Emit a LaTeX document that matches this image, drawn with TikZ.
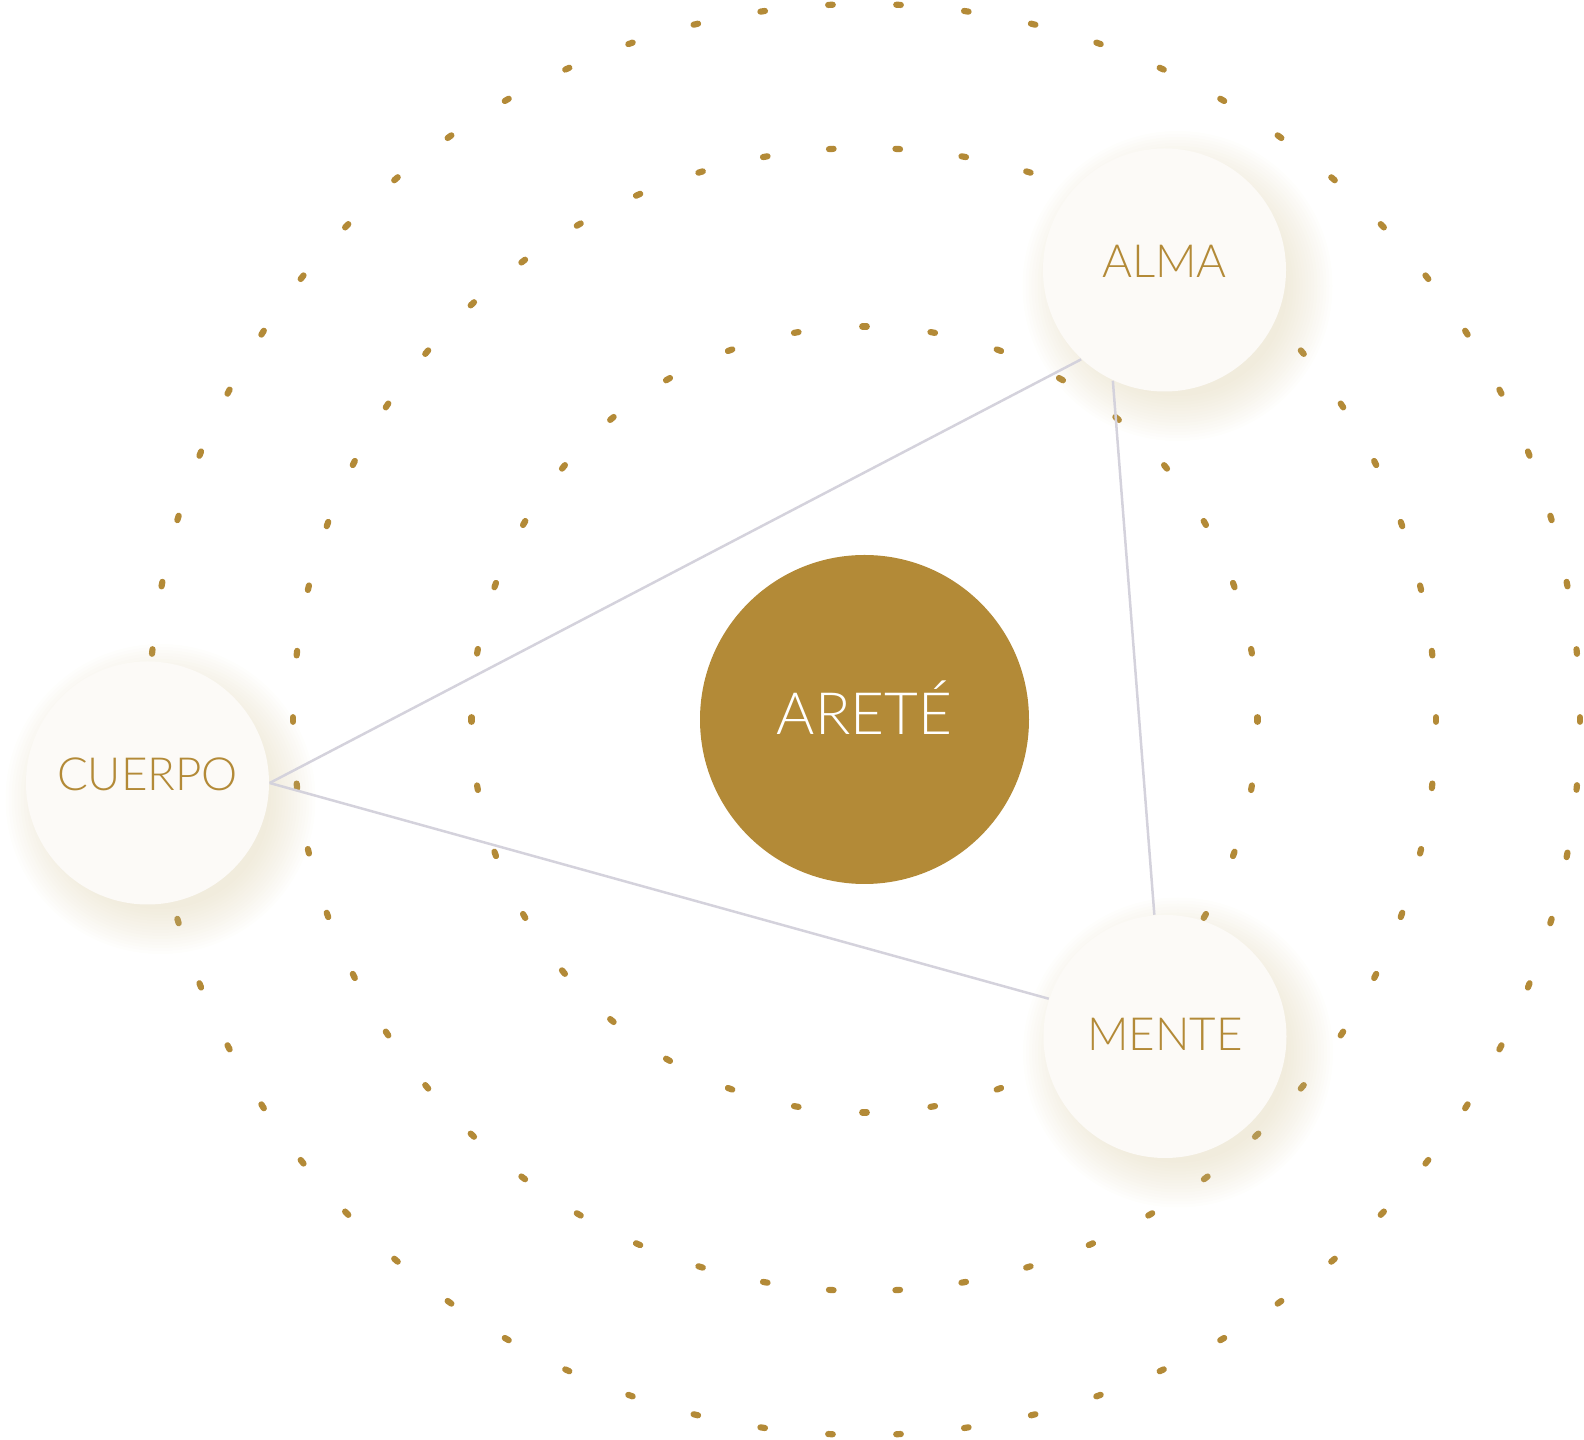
\documentclass[tikz,border=0pt]{standalone}
\usepackage{fontspec}
\setmainfont{Lato Light}
\usepackage{tikz}
\usetikzlibrary{positioning}

\definecolor{gold}{HTML}{B38A37}
\definecolor{cream}{HTML}{FCFAF7}
\definecolor{linegray}{HTML}{D4D2DC}
\definecolor{haze}{HTML}{D8C9A0}

\begin{document}
\begin{tikzpicture}
\tikzstyle{every node}=[inner sep=0pt];
\tikzstyle{ringdot}=[gold, line width=0.062cm, line cap=round];
\tikzstyle{pillar}=[circle, fill=cream, minimum size=2.43cm];
\tikzstyle{word}=[gold, anchor=base, font=\fontsize{13}{15}\selectfont];
\tikzstyle{link}=[linegray, line width=0.025cm];

  \useasboundingbox (0,0) rectangle (15.84,14.40);
  \coordinate (c) at (8.645,7.205);

  % dotted rings
  \foreach \r/\n/\s in {7.155/66/0.5, 5.715/54/0.5, 3.93/36/0}
    \foreach \k in {1,...,\n} {
      \pgfmathsetmacro\ang{90+(\k-1+\s)*(360/\n)-1.3/\r}
      \draw[ringdot, shift={(c)}] (\ang:\r) arc[start angle=\ang, delta angle={2.6/\r}, radius=\r];
    }

  % soft shadows
  \foreach \x/\y in {11.645/11.70, 1.475/6.57, 11.65/4.035}
    \foreach \k in {0,...,15}
      \fill[haze, opacity=0.028] (\x+0.13,\y-0.16) circle ({1.1+0.03*\k});

  \node[pillar] (alma) at (11.645,11.70) {};
  \node[pillar] (cuerpo) at (1.475,6.57) {};
  \node[pillar] (mente) at (11.65,4.035) {};
  \node[circle, fill=gold, minimum size=3.29cm] (arete) at (c) {};

  \node[word] (alma-label) at ([yshift=-0.077cm]alma) {ALMA};
  \node[word] (cuerpo-label) at ([yshift=-0.08cm]cuerpo) {CUERPO};
  \node[word] (mente-label) at ([yshift=-0.137cm]mente) {MENTE};
  \node[word, white, font=\fontsize{16.6}{19}\selectfont] (arete-label) at ([yshift=-0.148cm]arete) {ARETÉ};

  \foreach \from/\to in {cuerpo.east/alma.227, cuerpo.east/mente.162, alma.245/mente.95}
\draw [link] (\from) -- (\to);

\end{tikzpicture}
\end{document}
